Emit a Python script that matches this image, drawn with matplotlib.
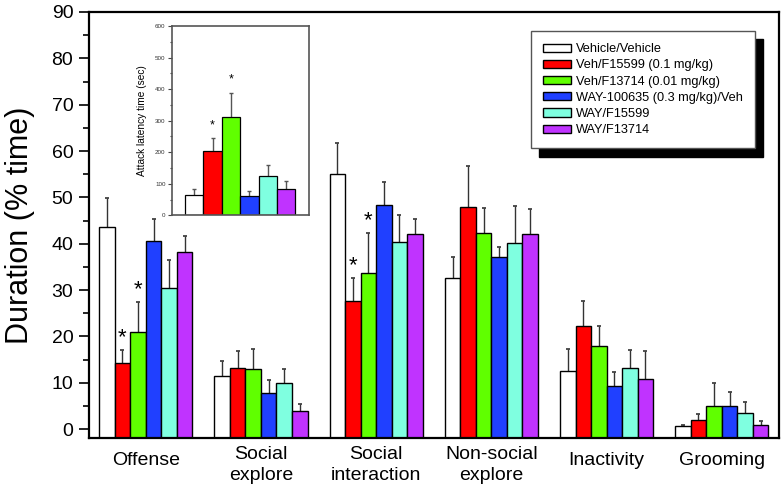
import matplotlib
matplotlib.use("Agg")
import matplotlib.pyplot as plt
import matplotlib.transforms as mtransforms
import numpy as np

plt.rcParams['font.family'] = ['Liberation Sans', 'DejaVu Sans']

# ---------------- data ----------------
categories = ["Offense", "Social\nexplore", "Social\ninteraction",
              "Non-social\nexplore", "Inactivity", "Grooming"]
groups = ["Vehicle/Vehicle", "Veh/F15599 (0.1 mg/kg)", "Veh/F13714 (0.01 mg/kg)",
          "WAY-100635 (0.3 mg/kg)/Veh", "WAY/F15599", "WAY/F13714"]
colors = ["#FFFFFF", "#FF0000", "#60FF00", "#2040FF", "#7FFFE0", "#C033FF"]

# means per group (rows) across categories (columns)
means = [
    [43.6, 11.4, 55.0, 32.7, 12.5, 0.6],   # Vehicle/Vehicle
    [14.2, 13.3, 27.6, 47.9, 22.3, 1.9],   # Veh/F15599
    [20.9, 12.9, 33.8, 42.4, 18.0, 4.9],   # Veh/F13714
    [40.6,  7.8, 48.4, 37.1,  9.3, 5.1],   # WAY/Veh
    [30.5,  9.9, 40.4, 40.1, 13.2, 3.5],   # WAY/F15599
    [38.2,  4.0, 42.2, 42.2, 10.9, 0.9],   # WAY/F13714
]
err_tops = [
    [49.9, 14.8, 61.7, 37.2, 17.3, 0.9],
    [17.1, 16.9, 32.7, 56.8, 27.7, 3.3],
    [27.5, 17.2, 42.4, 47.7, 22.3, 9.9],
    [45.3, 10.7, 53.3, 39.4, 12.4, 8.0],
    [36.6, 12.9, 46.3, 48.1, 17.1, 5.8],
    [41.7,  5.5, 45.4, 47.6, 16.9, 1.8],
]
# significance stars: (group index, category index)
stars_main = [(1, 0), (2, 0), (1, 2), (2, 2)]

# inset: attack latency time (sec)
inset_means = [65, 204, 311, 62, 124, 82]
inset_err_tops = [82, 244, 388, 77, 160, 110]
stars_inset = [1, 2]

# ---------------- figure ----------------
fig = plt.figure(figsize=(7.82, 4.87), dpi=100)
ax = fig.add_axes([0.1142, 0.1006, 0.8824, 0.8748])

Y0 = -1.9
n_groups = len(groups)
width = 0.1347
x = np.arange(len(categories))
ecol = "#333333"
for g in range(n_groups):
    xs = x + (g - (n_groups - 1) / 2) * width
    m = np.array(means[g])
    et = np.array(err_tops[g])
    ax.bar(xs, m - Y0, bottom=Y0, width=width, color=colors[g],
           edgecolor="black", linewidth=1.0, label=groups[g], zorder=2)
    ax.vlines(xs, m, et, color=ecol, linewidth=1.0, zorder=1)
    ax.plot(xs, et, linestyle="none", marker="_", markersize=3.5,
            markeredgewidth=1.2, color=ecol, zorder=1)

for g, c in stars_main:
    xs = x[c] + (g - (n_groups - 1) / 2) * width
    ax.text(xs, err_tops[g][c] + 2.6, "*", ha="center", va="center",
            fontsize=16, color="black")

ax.set_xlim(-0.49, 5.5)
ax.set_ylim(Y0, 90)
ax.set_yticks(np.arange(0, 91, 10))
ax.set_yticks(np.arange(5, 90, 10), minor=True)
ax.set_xticks(x)
ax.set_xticklabels(categories, fontsize=14, linespacing=1.25)
ax.tick_params(axis="x", length=0, pad=6)
ax.tick_params(axis="y", which="major", length=7.5, width=1.2, direction="out",
               labelsize=14, pad=4)
ax.tick_params(axis="y", which="minor", length=4, width=1.2, direction="out")
# single-line category labels sit slightly lower than two-line ones
shift = mtransforms.ScaledTranslation(0, -4 / 72, fig.dpi_scale_trans)
for lab in ax.get_xticklabels():
    if "\n" not in lab.get_text():
        lab.set_transform(lab.get_transform() + shift)
for s in ax.spines.values():
    s.set_linewidth(1.6)
    s.set_color("black")
ax.set_ylabel("Duration (% time)", fontsize=22, labelpad=12)

leg = ax.legend(loc="upper left", bbox_to_anchor=(0.6397, 0.9554),
                fontsize=9.2, frameon=True, fancybox=False,
                handlelength=2.2, handleheight=0.6, handletextpad=0.4,
                labelspacing=0.33, borderpad=0.95, borderaxespad=0,
                shadow={"color": "black", "alpha": 1.0, "ox": 6, "oy": -6})
leg.get_frame().set_edgecolor("#555555")
leg.get_frame().set_linewidth(1.0)
leg.set_zorder(5)

# ---------------- inset ----------------
ia = fig.add_axes([0.2196, 0.5579, 0.1756, 0.3887])
ix = np.arange(len(inset_means))
ia.bar(ix, inset_means, width=1.0, color=colors, edgecolor="black",
       linewidth=0.9, zorder=2)
ia.vlines(ix, inset_means, inset_err_tops, color="#555555", linewidth=1.0, zorder=1)
ia.plot(ix, inset_err_tops, linestyle="none", marker="_", markersize=3,
        markeredgewidth=1.0, color="#555555", zorder=1)
for g in stars_inset:
    ia.text(ix[g], inset_err_tops[g] + 42, "*", ha="center", va="center",
            fontsize=9, color="black")
ia.set_xlim(-1.22, 6.24)
ia.set_ylim(0, 600)
ia.set_xticks([])
ia.set_yticks(np.arange(0, 601, 100))
ia.set_yticks(np.arange(50, 600, 100), minor=True)
ia.tick_params(axis="y", which="major", length=3, width=0.8, labelsize=4.5,
               pad=1.5, colors="#444444", labelcolor="#333333")
ia.tick_params(axis="y", which="minor", length=1.8, width=0.8, colors="#444444")
for s in ia.spines.values():
    s.set_linewidth(1.2)
    s.set_color("#555555")
ia.set_ylabel("Attack latency time (sec)", fontsize=7.3, labelpad=6)

fig.savefig("out.png", dpi=100)
